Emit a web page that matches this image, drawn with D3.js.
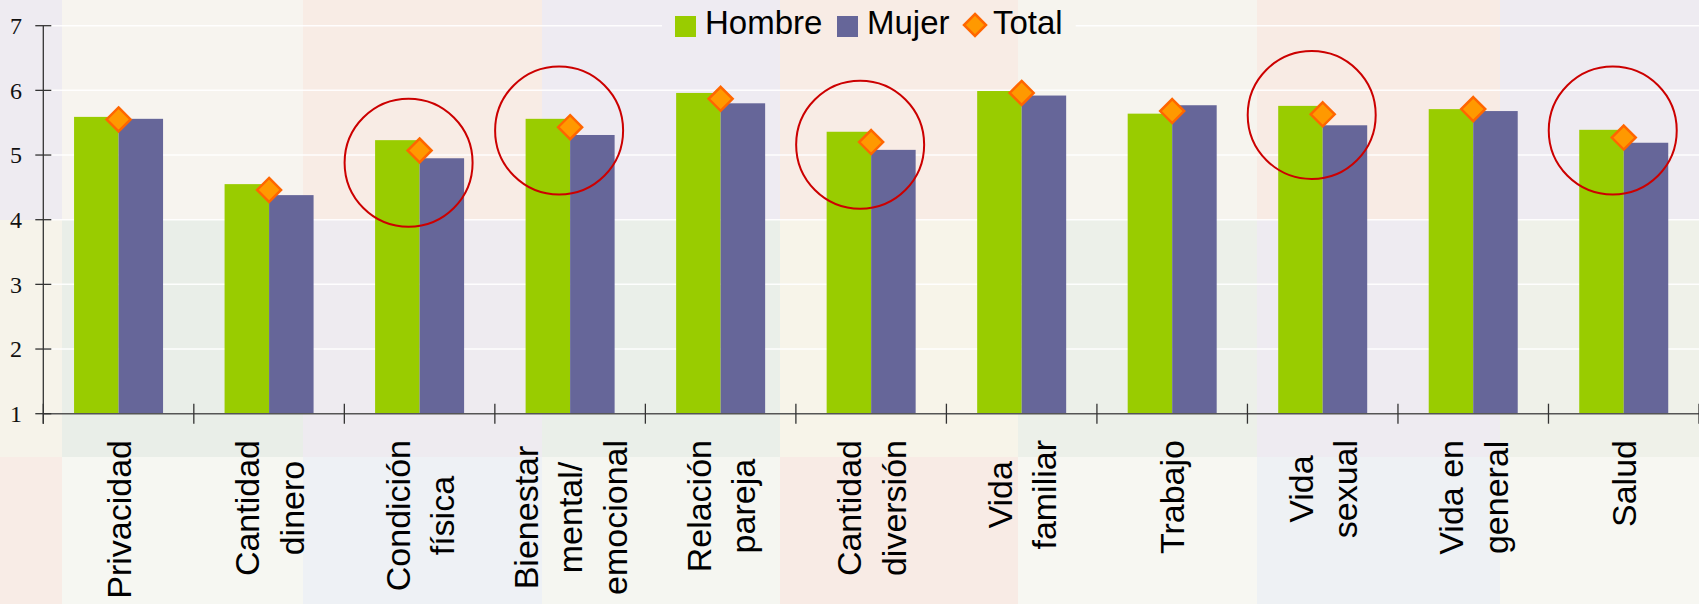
<!DOCTYPE html>
<html>
<head>
<meta charset="utf-8">
<script src="https://cdn.jsdelivr.net/npm/d3@7"></script>
<style>
    body { margin: 0; background: #f7f4ef; overflow: hidden; }
    .cat-label { font-family: Arial, "Liberation Sans", sans-serif; font-size: 34px; fill: #000; }
    .legend-text { font-family: Arial, "Liberation Sans", sans-serif; font-size: 33px; fill: #000; }
    .y-label { font-family: "Times New Roman", "Liberation Serif", serif; font-size: 24px; fill: #111; }
</style>
</head>
<body>
<div id="chart"></div>
<script>
// Data
const categories = ["Privacidad", "Cantidad dinero", "Condición física", "Bienestar mental/emocional",
    "Relación pareja", "Cantidad diversión", "Vida familiar", "Trabajo", "Vida sexual",
    "Vida en general", "Salud"];
const labelLines = [["Privacidad"], ["Cantidad", "dinero"], ["Condición", "física"],
    ["Bienestar", "mental/", "emocional"], ["Relación", "pareja"], ["Cantidad", "diversión"],
    ["Vida", "familiar"], ["Trabajo"], ["Vida", "sexual"], ["Vida en", "general"], ["Salud"]];
const hombre = [5.59, 4.55, 5.23, 5.56, 5.96, 5.36, 5.99, 5.64, 5.76, 5.71, 5.39];
const mujer  = [5.56, 4.38, 4.95, 5.31, 5.80, 5.08, 5.92, 5.77, 5.46, 5.68, 5.19];
const total  = [5.55, 4.46, 5.07, 5.43, 5.87, 5.20, 5.96, 5.68, 5.63, 5.71, 5.27];
const yTicks = [1, 2, 3, 4, 5, 6, 7];
const seriesNames = ["Hombre", "Mujer", "Total"];
// highlighted categories (red circles) and the value at the circle centre
const circled = [
    { cat: "Condición física", value: 4.88 },
    { cat: "Bienestar mental/emocional", value: 5.38 },
    { cat: "Cantidad diversión", value: 5.16 },
    { cat: "Vida sexual", value: 5.62 },
    { cat: "Salud", value: 5.38 }
];

// background tile palette (faded picture behind the chart)
const tileCols = [0, 62, 303, 542, 780, 1018, 1257, 1500, 1699];
const tileRows = [0, 220, 457, 604];
const tileColors = [
    ["#eeebf1", "#f7f4ef", "#f8ece5", "#eeebf2", "#f8ece5", "#f6f4ee", "#f8ebe4", "#eeebf1"],
    ["#f6f3ea", "#e9eee8", "#eeebf0", "#eaefe9", "#f7f4e9", "#ecf0e9", "#eeebf1", "#eff1e9"],
    ["#f8ece6", "#f6f7f2", "#eef1f5", "#f5f6f1", "#f8ebe5", "#f7f7f2", "#eef1f4", "#f7f7f2"]
];

const WIDTH = 1699;
const HEIGHT = 604;
const MARGINS = { top: 25.7, right: 0, bottom: 190.3, left: 43.3 };
const GREEN = "#99cc00";
const PURPLE = "#666699";
const ORANGE = "#ff9900";
const ORANGE_DARK = "#ff6600";
const BAR_W = 44.5;

const xScale = d3.scaleBand()
    .domain(categories)
    .range([MARGINS.left, WIDTH - MARGINS.right])
    .padding(0);
const yScale = d3.scaleLinear()
    .domain([1, 7])
    .range([HEIGHT - MARGINS.bottom, MARGINS.top]);

const svg = d3.select("#chart").append("svg")
    .attr("width", WIDTH)
    .attr("height", HEIGHT)
    .attr("viewBox", [0, 0, WIDTH, HEIGHT]);

// Background tiles
tileColors.forEach(function(row, r) {
    svg.append("g").selectAll("rect")
        .data(row)
        .join("rect")
        .attr("x", (d, c) => tileCols[c])
        .attr("width", (d, c) => tileCols[c + 1] - tileCols[c])
        .attr("y", tileRows[r])
        .attr("height", tileRows[r + 1] - tileRows[r])
        .attr("fill", d => d);
});

// Legend (drawn first so the grid can leave a gap behind it)
const legend = svg.append("g").attr("class", "legend");
legend.append("rect").attr("x", 675).attr("y", 16).attr("width", 21).attr("height", 21).attr("fill", GREEN);
legend.append("text").attr("class", "legend-text").attr("x", 705).attr("y", 33.5).text(seriesNames[0]);
legend.append("rect").attr("x", 837).attr("y", 16).attr("width", 21).attr("height", 21).attr("fill", PURPLE);
legend.append("text").attr("class", "legend-text").attr("x", 867).attr("y", 33.5).text(seriesNames[1]);
legend.append("path")
    .attr("d", "M975,14L986,25L975,36L964,25Z")
    .attr("fill", ORANGE).attr("stroke", ORANGE_DARK).attr("stroke-width", 2.5);
legend.append("text").attr("class", "legend-text").attr("x", 993).attr("y", 33.5).text(seriesNames[2]);
const lb = legend.node().getBBox();
const gapL = lb.x - 13, gapR = lb.x + lb.width + 13;

// Horizontal grid lines
const grid = svg.insert("g", ".legend").attr("class", "grid-lines");
yTicks.filter(d => d > 1).forEach(function(t) {
    const y = yScale(t);
    const segs = t === 7 ? [[MARGINS.left, gapL], [gapR, WIDTH]] : [[MARGINS.left, WIDTH]];
    segs.forEach(s => grid.append("line")
        .attr("x1", s[0]).attr("x2", s[1]).attr("y1", y).attr("y2", y)
        .style("stroke", "#ffffff").style("stroke-width", 1.5).style("stroke-opacity", 0.9));
});

// Bars
const bars = svg.append("g");
bars.selectAll(".hombre")
    .data(categories)
    .join("rect")
    .attr("x", d => xScale(d) + xScale.bandwidth() / 2 - BAR_W)
    .attr("width", BAR_W)
    .attr("y", (d, i) => yScale(hombre[i]))
    .attr("height", (d, i) => yScale(1) - yScale(hombre[i]))
    .attr("fill", GREEN);
bars.selectAll(".mujer")
    .data(categories)
    .join("rect")
    .attr("x", d => xScale(d) + xScale.bandwidth() / 2)
    .attr("width", BAR_W)
    .attr("y", (d, i) => yScale(mujer[i]))
    .attr("height", (d, i) => yScale(1) - yScale(mujer[i]))
    .attr("fill", PURPLE);

// X axis line and category ticks
const x0 = yScale(1);
svg.append("line")
    .attr("x1", MARGINS.left).attr("x2", WIDTH).attr("y1", x0).attr("y2", x0)
    .style("stroke", "#555").style("stroke-width", 1.5);
const bounds = categories.map(d => xScale(d)).concat([xScale.range()[1]]);
svg.append("g").selectAll("line")
    .data(bounds)
    .join("line")
    .attr("x1", d => d).attr("x2", d => d)
    .attr("y1", x0 - 10).attr("y2", x0 + 10)
    .style("stroke", "#333").style("stroke-width", 1.3);

// Y axis
svg.append("line")
    .attr("x1", MARGINS.left).attr("x2", MARGINS.left)
    .attr("y1", yScale(7)).attr("y2", x0 + 10)
    .style("stroke", "#333").style("stroke-width", 1.3);
const yAxis = svg.append("g");
yAxis.selectAll("line")
    .data(yTicks)
    .join("line")
    .attr("x1", MARGINS.left - 8).attr("x2", MARGINS.left + 8)
    .attr("y1", d => yScale(d)).attr("y2", d => yScale(d))
    .style("stroke", "#333").style("stroke-width", 1.3);
yAxis.selectAll("text")
    .data(yTicks)
    .join("text")
    .attr("class", "y-label")
    .attr("x", 22)
    .attr("y", d => yScale(d))
    .attr("dy", "0.35em")
    .attr("text-anchor", "end")
    .text(d => d);

// Total markers (diamonds)
const diamond = s => `M0,${-s}L${s},0L0,${s}L${-s},0Z`;
svg.append("g").selectAll("path")
    .data(categories)
    .join("path")
    .attr("d", diamond(12))
    .attr("transform", (d, i) => `translate(${xScale(d) + xScale.bandwidth() / 2},${yScale(total[i])})`)
    .attr("fill", ORANGE)
    .attr("stroke", ORANGE_DARK)
    .attr("stroke-width", 2.5);

// Red highlight circles
svg.append("g").selectAll("circle")
    .data(circled)
    .join("circle")
    .attr("cx", d => xScale(d.cat) + xScale.bandwidth() / 2 - 11)
    .attr("cy", d => yScale(d.value))
    .attr("r", 64)
    .attr("fill", "none")
    .attr("stroke", "#cc0000")
    .attr("stroke-width", 2);

// Category labels, rotated, one text per line
const LINE_H = 44.5;
const LABEL_TOP = 440;
const labels = svg.append("g");
categories.forEach(function(cat, i) {
    const lines = labelLines[i];
    const cx = xScale(cat) + xScale.bandwidth() / 2;
    const g = labels.append("g");
    const texts = lines.map((l, j) => g.append("text")
        .attr("class", "cat-label")
        .attr("text-anchor", "middle")
        .text(l));
    const maxLen = d3.max(texts, t => t.node().getComputedTextLength());
    const yc = LABEL_TOP + maxLen / 2;
    texts.forEach(function(t, j) {
        const bx = cx + (j - (lines.length - 1) / 2) * LINE_H + 12.2;
        t.attr("transform", `translate(${bx},${yc}) rotate(-90)`);
    });
});
</script>
</body>
</html>
